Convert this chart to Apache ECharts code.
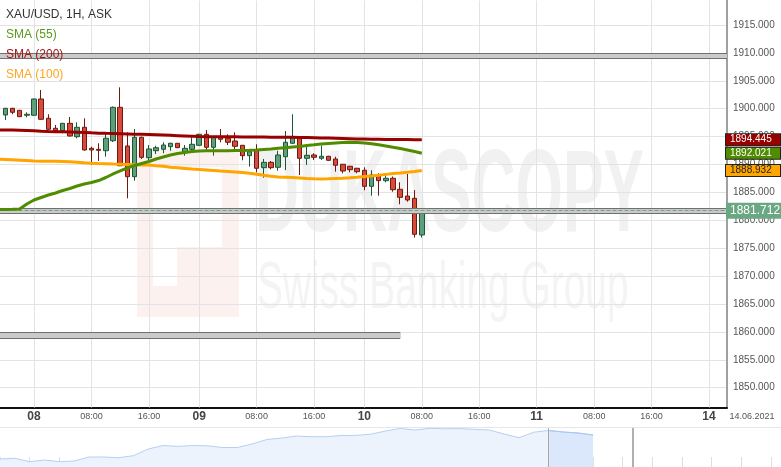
<!DOCTYPE html>
<html><head><meta charset="utf-8">
<script src="https://cdn.jsdelivr.net/npm/echarts@6/dist/echarts.min.js"></script>
<style>html,body{margin:0;padding:0;background:#fff}#c{width:781px;height:467px}</style>
</head><body><div id="c"></div>
<script>
// ---- hourly candles (XAU/USD, 1H, ASK) ----
const opens  = [1898.87,1900.07,1899.71,1898.82,1898.82,1901.74,1898.28,1896.49,1896.06,1897.38,1894.98,1896.67,1892.90,1892.72,1892.47,1894.26,1900.25,1893.32,1887.81,1894.87,1891.22,1892.47,1892.72,1893.19,1893.80,1892.19,1892.72,1893.44,1895.41,1893.08,1894.98,1894.70,1894.21,1893.44,1891.58,1892.54,1889.43,1890.39,1889.50,1891.40,1893.80,1894.87,1891.11,1891.70,1891.11,1891.47,1890.99,1890.04,1889.68,1889.32,1888.96,1886.09,1888.12,1887.10,1887.53,1885.56,1884.35,1883.94,1877.37];
const closes = [1900.07,1899.35,1898.57,1899.00,1901.74,1898.10,1896.31,1896.06,1897.38,1895.11,1896.67,1892.60,1892.60,1892.54,1894.70,1900.25,1889.78,1887.81,1894.87,1891.29,1892.78,1893.01,1893.49,1893.80,1893.01,1892.90,1893.62,1895.41,1893.08,1894.98,1894.52,1893.98,1893.26,1891.58,1892.29,1889.32,1890.39,1889.43,1891.70,1893.98,1894.87,1891.11,1891.65,1891.29,1891.47,1890.75,1889.86,1888.83,1889.07,1888.71,1886.09,1888.12,1887.10,1887.53,1885.48,1884.12,1883.64,1877.49,1881.712];
const lows   = [1897.97,1899.00,1898.50,1898.46,1898.70,1898.00,1896.20,1895.88,1895.59,1895.00,1894.70,1892.50,1889.91,1890.63,1891.40,1894.03,1889.70,1883.94,1887.10,1890.99,1890.81,1891.88,1892.01,1892.47,1892.95,1891.58,1892.29,1893.30,1892.60,1891.58,1893.98,1893.49,1892.29,1890.75,1889.61,1888.60,1887.63,1889.14,1888.89,1889.00,1893.70,1888.12,1889.91,1890.81,1890.81,1890.63,1888.71,1888.42,1888.60,1888.42,1885.38,1884.41,1884.41,1886.81,1885.12,1882.87,1883.33,1876.90,1876.92];
const highs  = [1900.15,1900.15,1899.75,1899.35,1901.80,1903.35,1899.00,1897.08,1897.45,1898.51,1897.56,1898.28,1893.19,1893.80,1895.59,1900.40,1903.83,1895.77,1896.36,1895.00,1893.49,1893.37,1893.98,1893.90,1893.85,1893.49,1894.87,1895.50,1896.18,1895.05,1896.36,1895.41,1895.77,1893.50,1892.35,1893.62,1890.99,1890.63,1892.47,1896.00,1899.00,1895.00,1893.26,1892.01,1893.37,1891.55,1891.40,1890.10,1889.75,1889.40,1889.50,1888.96,1888.42,1888.12,1887.85,1886.81,1888.30,1885.43,1881.80];

// ---- moving averages (first value = hour before the first visible candle) ----
const sma55  = [1881.94,1881.94,1881.97,1882.02,1882.92,1883.64,1884.09,1884.53,1884.89,1885.34,1885.70,1886.15,1886.51,1886.77,1887.13,1887.67,1888.30,1888.84,1889.37,1889.82,1890.18,1890.54,1890.98,1891.34,1891.70,1891.97,1892.15,1892.33,1892.42,1892.45,1892.45,1892.47,1892.47,1892.51,1892.51,1892.54,1892.60,1892.69,1892.78,1892.90,1892.99,1893.14,1893.23,1893.40,1893.53,1893.67,1893.76,1893.85,1893.94,1893.98,1893.94,1893.85,1893.71,1893.53,1893.32,1893.08,1892.87,1892.60,1892.33,1892.021];
const sma200 = [1896.18,1896.18,1896.16,1896.14,1896.10,1896.05,1895.95,1895.90,1895.88,1895.86,1895.84,1895.80,1895.75,1895.68,1895.62,1895.58,1895.55,1895.52,1895.48,1895.44,1895.40,1895.36,1895.32,1895.27,1895.22,1895.17,1895.12,1895.07,1895.02,1894.99,1894.98,1894.97,1894.96,1894.95,1894.94,1894.93,1894.92,1894.91,1894.90,1894.89,1894.88,1894.87,1894.85,1894.82,1894.79,1894.76,1894.73,1894.70,1894.67,1894.63,1894.59,1894.56,1894.53,1894.51,1894.49,1894.48,1894.47,1894.46,1894.45,1894.445];
const sma100 = [1890.93,1890.90,1890.84,1890.77,1890.70,1890.63,1890.59,1890.57,1890.56,1890.54,1890.50,1890.41,1890.30,1890.21,1890.16,1890.13,1890.07,1890.04,1890.00,1889.96,1889.93,1889.89,1889.78,1889.68,1889.52,1889.41,1889.30,1889.19,1889.10,1889.01,1888.92,1888.83,1888.75,1888.66,1888.55,1888.42,1888.24,1888.06,1887.90,1887.76,1887.71,1887.65,1887.58,1887.49,1887.44,1887.40,1887.44,1887.49,1887.54,1887.62,1887.72,1887.83,1887.94,1888.08,1888.23,1888.37,1888.49,1888.62,1888.76,1888.932];

// ---- drawn horizontal levels ----
const levelTop = 1909.53;
const levelLow = 1859.35;
const lastPrice = 1881.712;

// ---- axis: trading hours per day shown on the time axis ----
const sessionDays = ['07', '08', '09', '10', '11', '14'];
const sessionHours = [
  [18, 19, 20, 21, 22],
  [0,1,2,3,4,5,6,7,8,9,10,11,12,13,14,15,16,17,18,19,20,21,22],
  [0,1,2,3,4,5,6,7,8,9,10,11,12,13,14,15,16,17,18,19,20,21,22],
  [0,1,2,3,4,5,6,7,8,9,10,11,12,13,14,15,16,17,18,19,20,21,22,23],
  [0,1,2,3,4,5,6,7,8,9,10,11,12,13,14,15,16,17,18,19,20,21,22,23],
  [0,1,2]
];
const dateLabel = '14.06.2021';
const yTicksFrom = 1846.45, yTicksTo = 1919.48;

// ---- navigator (history overview) ----
const navLevels = [8,8.7,5.3,7,5.3,6,10,10,9.3,11.3,18,21.5,20.6,21.5,21.2,19.5,19.5,23,27.5,29,31,30.3,30.3,31.5,31.6,32.8,36,38.5,37,38.7,38.2,38.4,37.7,37,33,29.3,34.8,36.5,35,34,32];
const navSelStart = 37;
const navSlots = 53;

const categories = [];
sessionDays.forEach((d, i) => sessionHours[i].forEach(h => categories.push(d + ' ' + (h < 10 ? '0' : '') + h + ':00')));

const isMajor = (idx, v) => /(00|08|16):00$/.test(v) && idx > 0;
const candleData = [['-','-','-','-']].concat(opens.map((o, i) => [o, closes[i], lows[i], highs[i]]));
const navCats = [];
for (let k = 0; k < navSlots; k++) navCats.push(String(k));
const navSel = navLevels.map((v, k) => k >= navSelStart ? v : '-');

const FONT = '"Liberation Sans", Arial, sans-serif';
const tag = (bg, fg, border) => ({
  show: true, position: 'end', distance: -1, formatter: p => p.value.toFixed(3),
  color: fg, backgroundColor: bg, borderColor: border, borderWidth: 1,
  fontSize: 10, lineHeight: 10, padding: [1, 2, 0, 4], width: 48, fontFamily: FONT
});
const smaSeries = (name, data, color, tagBg, tagFg) => ({
  name, type: 'line', data, symbol: 'none', showSymbol: false, z: 7,
  lineStyle: { color, width: 3 }, silent: true,
  markLine: {
    symbol: 'none', silent: true, animation: false, precision: 3, z: 9,
    lineStyle: { color: 'rgba(0,0,0,0)', width: 1 },
    data: [{ yAxis: data[data.length - 1] }],
    label: tag(tagBg, tagFg, '#222')
  }
});

const chart = echarts.init(document.getElementById('c'), null, { renderer: 'canvas' });
chart.setOption({
  animation: false,
  backgroundColor: '#fff',
  textStyle: { fontFamily: FONT },
  grid: [
    { left: -5.5, right: 54, top: 0, bottom: 59.5, outerBoundsMode: 'none', containLabel: false },
    { left: 0, right: 10, top: 428, bottom: 0, outerBoundsMode: 'none', containLabel: false }
  ],
  xAxis: [{
    type: 'category', data: categories, boundaryGap: true, gridIndex: 0,
    axisLine: { show: true, lineStyle: { color: '#111', width: 2 } },
    axisTick: { show: true, inside: true, length: 407, alignWithLabel: true, interval: isMajor,
                lineStyle: { color: '#e3e3e3', width: 1 } },
    splitLine: { show: false },
    axisLabel: {
      interval: isMajor, margin: 1,
      formatter: v => { const hh = v.slice(3); return hh === '00:00' ? '{d|' + v.slice(0, 2) + '}' : '{t|' + hh + '}'; },
      rich: {
        d: { fontWeight: 'bold', fontSize: 12, color: '#444', lineHeight: 16, fontFamily: FONT },
        t: { fontSize: 9, color: '#555', lineHeight: 16, fontFamily: FONT }
      }
    }
  }, {
    type: 'category', data: navCats, boundaryGap: false, gridIndex: 1,
    axisLine: { show: false },
    axisTick: { show: true, inside: true, length: 10, interval: 1, lineStyle: { color: '#dedede' } },
    axisLabel: { show: false }, splitLine: { show: false }
  }],
  yAxis: [{
    type: 'value', position: 'right', gridIndex: 0,
    min: yTicksFrom, max: yTicksTo, minInterval: 5, maxInterval: 5, splitNumber: 14, scale: true,
    axisLine: { show: true, lineStyle: { color: '#a0a0a0', width: 2 } },
    axisTick: { show: false },
    axisLabel: { margin: 6, fontSize: 10, color: '#555', showMinLabel: false, showMaxLabel: false,
                 formatter: v => v.toFixed(3) },
    splitLine: { show: true, showMinLine: false, showMaxLine: false, lineStyle: { color: '#e3e3e3', width: 1 } }
  }, {
    type: 'value', gridIndex: 1, min: 0, max: 39, show: false
  }],
  series: [
    {
      name: 'XAU/USD', type: 'candlestick', data: candleData, barWidth: 5, z: 4,
      itemStyle: { color: '#5e9f7a', color0: '#d84b3a', borderColor: '#1d5634', borderColor0: '#6e1a10', borderWidth: 1 },
      markLine: {
        symbol: 'none', silent: true, animation: false, z: 5, precision: 3,
        label: { show: false },
        data: [
          { yAxis: levelTop, lineStyle: { color: '#707070', width: 6, type: 'solid' } },
          { yAxis: levelTop, lineStyle: { color: '#cacaca', width: 4, type: 'solid' } },
          [{ coord: [categories[0], levelLow], lineStyle: { color: '#707070', width: 7, type: 'solid' } }, { coord: [categories[56], levelLow] }],
          [{ coord: [categories[0], levelLow], lineStyle: { color: '#cacaca', width: 5, type: 'solid' } }, { coord: [categories[56], levelLow] }],
          { yAxis: lastPrice, lineStyle: { color: '#707070', width: 6, type: 'solid' } },
          { yAxis: lastPrice, lineStyle: { color: '#cacaca', width: 4, type: 'solid' } },
          { yAxis: lastPrice, lineStyle: { color: '#6aa884', width: 1, type: 'dashed' },
            label: { show: true, position: 'end', distance: -1, formatter: lastPrice.toFixed(3),
                     color: '#fff', backgroundColor: '#6aa884', fontSize: 12, lineHeight: 14,
                     padding: [1, 2, 1, 4], width: 49, fontFamily: FONT } }
        ]
      }
    },
    smaSeries('SMA (200)', sma200, '#990000', '#990000', '#fff'),
    smaSeries('SMA (100)', sma100, '#ffa500', '#ffa500', '#222'),
    smaSeries('SMA (55)', sma55, '#4f8c00', '#4f8c00', '#fff'),
    {
      name: 'nav', type: 'line', xAxisIndex: 1, yAxisIndex: 1, data: navLevels, symbol: 'none', silent: true,
      lineStyle: { color: '#b5cff2', width: 1 }, areaStyle: { color: '#ecf3fd', opacity: 1 }
    },
    {
      name: 'navSel', type: 'line', xAxisIndex: 1, yAxisIndex: 1, data: navSel, symbol: 'none', silent: true,
      lineStyle: { color: '#a9c6f0', width: 1 }, areaStyle: { color: '#dbe7fa', opacity: 1 },
      markLine: { symbol: 'none', silent: true, label: { show: false },
                  lineStyle: { color: '#a8a8a8', width: 1, type: 'solid' },
                  data: [{ xAxis: navCats[navSelStart] }] }
    }
  ],
  graphic: { elements: [
    { type: 'rect', z: -10, silent: true, shape: { x: 137, y: 150, width: 102, height: 167 }, style: { fill: '#fdf1f0' } },
    { type: 'rect', z: -9, silent: true, shape: { x: 153, y: 167, width: 24, height: 119 }, style: { fill: '#ffffff' } },
    { type: 'rect', z: -9, silent: true, shape: { x: 177, y: 167, width: 45, height: 80 }, style: { fill: '#ffffff' } },
    { type: 'text', z: -9, silent: true, x: 255, y: 199, scaleX: 0.525,
      style: { text: 'DUKASCOPY', font: 'bold 116px ' + FONT, fill: '#f1f1f1', verticalAlign: 'middle', align: 'left' } },
    { type: 'text', z: -9, silent: true, x: 257, y: 290, scaleX: 0.58,
      style: { text: 'Swiss Banking Group', font: '67px ' + FONT, fill: '#f4f4f4', verticalAlign: 'middle', align: 'left' } },
    { type: 'text', z: 20, silent: true, x: 6, y: 15, style: { text: 'XAU/USD, 1H, ASK', font: '12px ' + FONT, fill: '#333', verticalAlign: 'middle' } },
    { type: 'text', z: 20, silent: true, x: 6, y: 35, style: { text: 'SMA (55)', font: '12px ' + FONT, fill: '#5a9a1e', verticalAlign: 'middle' } },
    { type: 'text', z: 20, silent: true, x: 6, y: 55, style: { text: 'SMA (200)', font: '12px ' + FONT, fill: '#a01818', verticalAlign: 'middle' } },
    { type: 'text', z: 20, silent: true, x: 6, y: 75, style: { text: 'SMA (100)', font: '12px ' + FONT, fill: '#ffa51f', verticalAlign: 'middle' } },
    { type: 'text', z: 20, silent: true, x: 752, y: 417, style: { text: dateLabel, font: '9px ' + FONT, fill: '#555', align: 'center', verticalAlign: 'middle' } },
    { type: 'line', z: 1, silent: true, shape: { x1: 0, y1: 427.5, x2: 781, y2: 427.5 }, style: { stroke: '#e6e6e6', lineWidth: 1 } },
    { type: 'line', z: 20, silent: true, shape: { x1: 633, y1: 428, x2: 633, y2: 467 }, style: { stroke: '#b0b0b0', lineWidth: 2 } }
  ] }
});
</script>
</body></html>
